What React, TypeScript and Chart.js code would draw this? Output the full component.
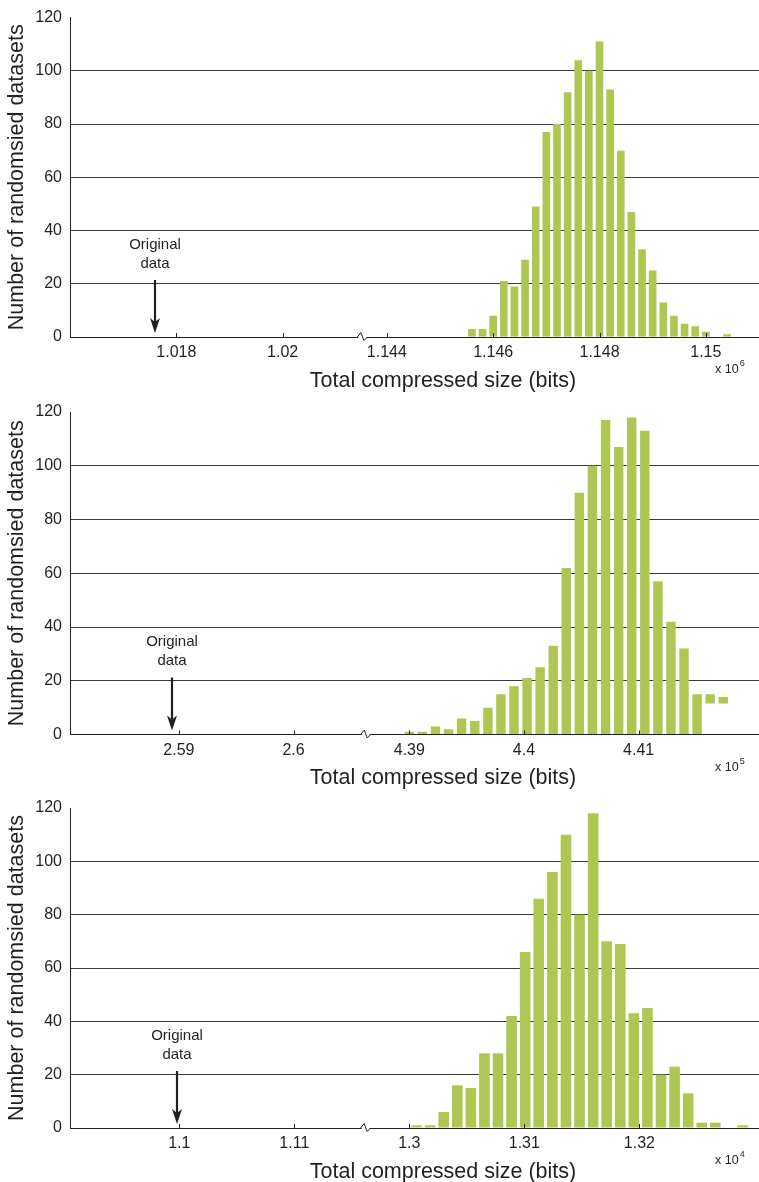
import React, { useEffect, useRef } from 'react';
import { Chart, registerables } from 'chart.js';

Chart.register(...registerables);

const FONT = '"Liberation Sans", Arial, Helvetica, sans-serif';
const INK = '#231f20';
const BAR = '#aec652';

// ---------- Panel 1 (x 10^6) ----------
const p1Bins = [1.1456, 1.1458, 1.146, 1.1462, 1.1464, 1.1466, 1.1468, 1.147, 1.1472, 1.1474, 1.1476, 1.1478, 1.148, 1.1482, 1.1484, 1.1486, 1.1488, 1.149, 1.1492, 1.1494, 1.1496, 1.1498, 1.15, 1.1502, 1.1504];
const p1Counts = [3, 3, 8, 21, 19, 29, 49, 77, 80, 92, 104, 100, 111, 93, 70, 47, 33, 25, 13, 8, 5, 4, 2, 0, 1];
const p1TickValues = [1.018, 1.02, 1.144, 1.146, 1.148, 1.15];
const p1TickLabels = ['1.018', '1.02', '1.144', '1.146', '1.148', '1.15'];
const p1Original = 1.0176;

// ---------- Panel 2 (x 10^5) ----------
const p2Bins = [4.39, 4.39114, 4.39228, 4.39342, 4.39456, 4.39571, 4.39685, 4.39799, 4.39913, 4.40027, 4.40141, 4.40255, 4.40369, 4.40483, 4.40597, 4.40712, 4.40826, 4.4094, 4.41054, 4.41168, 4.41282, 4.41396, 4.4151, 4.41624, 4.41738];
const p2Counts = [1, 1, 3, 2, 6, 5, 10, 15, 18, 21, 25, 33, 62, 90, 100, 117, 107, 118, 113, 57, 42, 32, 15, 15, 14];
const p2Bases = [0, 0, 0, 0, 0, 0, 0, 0, 0, 0, 0, 0, 0, 0, 0, 0, 0, 0, 0, 0, 0, 0, 0, 11.5, 11.5];
const p2TickValues = [2.59, 2.6, 4.39, 4.4, 4.41];
const p2TickLabels = ['2.59', '2.6', '4.39', '4.4', '4.41'];
const p2Original = 2.5894;

// ---------- Panel 3 (x 10^4) ----------
const p3Bins = [1.30063, 1.30181, 1.30299, 1.30417, 1.30535, 1.30653, 1.30771, 1.30889, 1.31007, 1.31125, 1.31244, 1.31362, 1.3148, 1.31598, 1.31716, 1.31834, 1.31952, 1.3207, 1.32188, 1.32306, 1.32424, 1.32542, 1.3266, 1.32779, 1.32897];
const p3Counts = [1, 1, 6, 16, 15, 28, 28, 42, 66, 86, 96, 110, 80, 118, 70, 69, 43, 45, 20, 23, 13, 2, 2, 0, 1];
const p3TickValues = [1.1, 1.11, 1.3, 1.31, 1.32];
const p3TickLabels = ['1.1', '1.11', '1.3', '1.31', '1.32'];
const p3Original = 1.0998;

const yTitle = 'Number of randomsied datasets';
const xTitle = 'Total compressed size (bits)';
const annotationLines = ['Original', 'data'];

type PanelDef = {
  bins: number[];
  counts: number[];
  bases?: number[];
  tickValues: number[];
  tickLabels: string[];
  original: number;
  exponent: string;
  range: [number, number, number, number]; // left min, left break, right break, right max
  barPct: number;
  top: number;
  height: number;
  padTop: number;
  plotH: number;
};

const panels: PanelDef[] = [
  { bins: p1Bins, counts: p1Counts, tickValues: p1TickValues, tickLabels: p1TickLabels, original: p1Original, exponent: '6',
    range: [1.016, 1.0215, 1.14354, 1.151], barPct: 0.72, top: 0, height: 394, padTop: 15, plotH: 322 },
  { bins: p2Bins, counts: p2Counts, bases: p2Bases, tickValues: p2TickValues, tickLabels: p2TickLabels, original: p2Original, exponent: '5',
    range: [2.5805, 2.6063, 4.3862, 4.4205], barPct: 0.72, top: 394, height: 396, padTop: 18, plotH: 322.5 },
  { bins: p3Bins, counts: p3Counts, tickValues: p3TickValues, tickLabels: p3TickLabels, original: p3Original, exponent: '4',
    range: [1.0905, 1.1162, 1.2962, 1.3304], barPct: 0.78, top: 790, height: 392, padTop: 18, plotH: 320 },
];

const annotPlugin = {
  id: 'annot',
  afterDraw(chart: any, _args: any, opts: any) {
    const { ctx, chartArea, scales } = chart;
    const x = scales.x;
    const y0 = chartArea.bottom;
    ctx.save();
    ctx.strokeStyle = INK;
    ctx.fillStyle = INK;
    ctx.lineWidth = 1;
    // inward tick marks
    for (const t of x.ticks) {
      const px = Math.round(x.getPixelForValue(t.value)) + 0.5;
      ctx.beginPath();
      ctx.moveTo(px, y0);
      ctx.lineTo(px, y0 - 4);
      ctx.stroke();
    }
    // axis break
    const bx = x.getPixelForValue(opts.breakAt);
    ctx.fillStyle = '#ffffff';
    ctx.fillRect(bx - 4, y0 - 2, 8, 4);
    ctx.beginPath();
    ctx.moveTo(bx - 5, y0);
    ctx.lineTo(bx - 1.5, y0 - 4.5);
    ctx.lineTo(bx + 1.5, y0 + 3.5);
    ctx.lineTo(bx + 5, y0);
    ctx.stroke();
    // arrow
    const ax = Math.round(x.getPixelForValue(opts.arrowAt));
    ctx.fillStyle = INK;
    ctx.lineWidth = 2.2;
    ctx.beginPath();
    ctx.moveTo(ax, y0 - 57);
    ctx.lineTo(ax, y0 - 15);
    ctx.stroke();
    ctx.beginPath();
    ctx.moveTo(ax - 5, y0 - 19);
    ctx.lineTo(ax, y0 - 15);
    ctx.lineTo(ax + 5, y0 - 19);
    ctx.lineTo(ax, y0 - 4);
    ctx.closePath();
    ctx.fill();
    // annotation text
    ctx.font = `15px ${FONT}`;
    ctx.textAlign = 'center';
    ctx.textBaseline = 'middle';
    ctx.fillText(annotationLines[0], ax, y0 - 92.5);
    ctx.fillText(annotationLines[1], ax, y0 - 73.5);
    // x title
    ctx.font = `21.5px ${FONT}`;
    ctx.fillText(xTitle, 443, y0 + 44);
    // exponent
    ctx.textAlign = 'left';
    ctx.font = `12.5px ${FONT}`;
    ctx.fillText('x 10', 715, y0 + 33);
    const w = ctx.measureText('x 10').width;
    ctx.font = `9px ${FONT}`;
    ctx.fillText(opts.exponent, 715 + w + 1, y0 + 27);
    ctx.restore();
  },
};

function PanelChart({ p }: { p: PanelDef }) {
  const ref = useRef<HTMLCanvasElement>(null);
  useEffect(() => {
    const [lMin, lMax, rMin, rMax] = p.range;
    const gap = rMin - lMax;
    const disp = (v: number) => (v > lMax ? v - gap : v);
    const data = p.bins.map((b, i) => ({
      x: disp(b),
      y: p.bases && p.bases[i] ? [p.bases[i], p.counts[i]] : p.counts[i],
    }));
    const tickDisp = p.tickValues.map(disp);
    const chart = new Chart(ref.current as HTMLCanvasElement, {
      type: 'bar',
      data: {
        datasets: [
          {
            data: data as any,
            backgroundColor: BAR,
            borderWidth: 0,
            barPercentage: p.barPct,
            categoryPercentage: 1,
          },
        ],
      },
      options: {
        responsive: false,
        animation: false,
        devicePixelRatio: 1,
        layout: { padding: { top: p.padTop, left: 0, right: 0, bottom: 0 } },
        plugins: {
          legend: { display: false },
          tooltip: { enabled: false },
          annot: { breakAt: lMax, arrowAt: p.original, exponent: p.exponent },
        } as any,
        scales: {
          x: {
            type: 'linear',
            min: lMin,
            max: rMax - gap,
            offset: false,
            grid: { display: false, offset: false, drawTicks: false },
            border: { display: true, color: INK, width: 1 },
            afterBuildTicks: (scale: any) => {
              scale.ticks = tickDisp.map((v) => ({ value: v }));
            },
            afterFit: (scale: any) => {
              scale.height = p.height - p.padTop - p.plotH;
            },
            ticks: {
              autoSkip: false,
              maxRotation: 0,
              padding: 6,
              color: INK,
              font: { size: 16, family: FONT },
              callback: (_v: any, i: number) => p.tickLabels[i],
            },
          },
          y: {
            min: 0,
            max: 120,
            ticks: { stepSize: 20, padding: 8, color: INK, font: { size: 16, family: FONT } },
            grid: {
              drawTicks: false,
              color: (c: any) => (c.tick && (c.tick.value === 0 || c.tick.value === 120) ? 'rgba(0,0,0,0)' : '#3a3a3a'),
              lineWidth: 1,
            },
            border: { display: true, color: INK, width: 1 },
            title: {
              display: true,
              text: yTitle,
              color: INK,
              font: { size: 21.5, family: FONT },
              padding: { top: 4, bottom: 0 },
            },
            afterFit: (scale: any) => {
              scale.width = 70;
            },
          },
        },
      } as any,
      plugins: [annotPlugin],
    });
    return () => chart.destroy();
  }, [p]);
  return (
    <canvas
      ref={ref}
      width={759}
      height={p.height}
      style={{ position: 'absolute', left: 0, top: p.top, display: 'block' }}
    />
  );
}

export default function App() {
  return (
    <div style={{ position: 'absolute', left: 0, top: 0, width: 759, height: 1182, background: '#fff', overflow: 'hidden' }}>
      {panels.map((p, i) => (
        <PanelChart key={i} p={p} />
      ))}
    </div>
  );
}
